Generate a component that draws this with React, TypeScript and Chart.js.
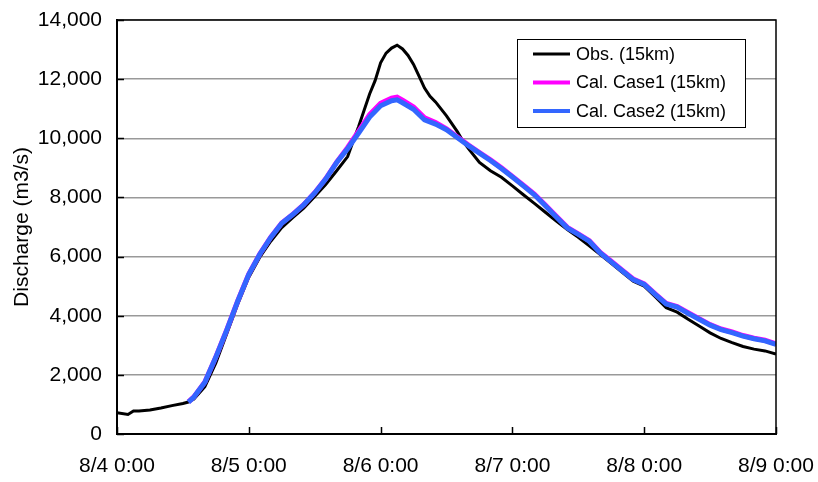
import { useEffect, useRef } from 'react';
import { Chart, registerables } from 'chart.js';

Chart.register(...registerables);

const xTickLabels = ['8/4 0:00', '8/5 0:00', '8/6 0:00', '8/7 0:00', '8/8 0:00', '8/9 0:00'];
const seriesLabels = ['Obs. (15km)', 'Cal. Case1 (15km)', 'Cal. Case2 (15km)'];

// hours since 8/4 0:00
const obsHours = [0, 2, 3, 4, 6, 8, 10, 12, 13, 14, 16, 18, 20, 22, 24, 26, 28, 30, 32, 34, 36, 38, 40, 42, 43, 44, 45, 46, 47, 48, 49, 50, 51, 52, 53, 54, 55, 56, 57, 58, 60, 62, 63, 64, 66, 68, 70, 72, 74, 76, 78, 80, 82, 84, 86, 88, 90, 92, 94, 96, 98, 100, 102, 104, 106, 108, 110, 112, 114, 116, 118, 120];
const obsValues = [720, 660, 775, 780, 810, 880, 960, 1030, 1080, 1180, 1600, 2400, 3400, 4400, 5300, 5980, 6520, 6980, 7320, 7640, 8030, 8440, 8900, 9380, 9900, 10400, 10950, 11500, 11950, 12550, 12880, 13050, 13150, 13020, 12800, 12500, 12100, 11700, 11420, 11230, 10760, 10220, 9900, 9650, 9180, 8900, 8680, 8390, 8090, 7800, 7500, 7200, 6910, 6650, 6360, 6070, 5770, 5470, 5170, 5000, 4640, 4270, 4120, 3880, 3650, 3420, 3230, 3090, 2960, 2870, 2810, 2700];

const calHours = [13, 14, 16, 18, 20, 22, 24, 26, 28, 30, 32, 34, 36, 38, 40, 42, 44, 46, 48, 50, 51, 52, 54, 56, 58, 60, 62, 64, 66, 68, 70, 72, 74, 76, 78, 80, 82, 84, 86, 88, 90, 92, 94, 96, 98, 100, 102, 104, 106, 108, 110, 112, 114, 116, 118, 120];
const case1Values = [1085, 1255, 1755, 2605, 3525, 4505, 5405, 6085, 6655, 7135, 7425, 7755, 8160, 8630, 9190, 9690, 10240, 10800, 11180, 11360, 11390, 11290, 11060, 10690, 10530, 10320, 10040, 9770, 9520, 9270, 9000, 8710, 8410, 8110, 7740, 7360, 6990, 6770, 6540, 6140, 5840, 5540, 5240, 5080, 4740, 4420, 4310, 4100, 3900, 3700, 3550, 3450, 3330, 3240, 3170, 3050];
const case2Values = [1080, 1250, 1750, 2600, 3520, 4500, 5400, 6080, 6650, 7130, 7420, 7750, 8150, 8620, 9180, 9650, 10180, 10720, 11100, 11270, 11300, 11200, 10980, 10620, 10480, 10290, 10020, 9750, 9500, 9250, 8980, 8690, 8390, 8090, 7720, 7340, 6970, 6750, 6520, 6120, 5820, 5520, 5220, 5060, 4720, 4400, 4290, 4080, 3880, 3680, 3530, 3430, 3310, 3220, 3150, 3030];

const FONT = 'Liberation Sans, Arial, sans-serif';

const toPoints = (xs: number[], ys: number[]) => xs.map((x, i) => ({ x, y: ys[i] }));

const framePlugin = {
  id: 'frameAndLegend',
  afterDraw(chart: any) {
    const { ctx, chartArea } = chart;
    const { left, top, right, bottom } = chartArea;
    const xs = chart.scales.x;
    const ys = chart.scales.y;
    ctx.save();
    ctx.strokeStyle = '#000';
    ctx.lineWidth = 1.5;
    ctx.strokeRect(left, top, right - left, bottom - top);
    // inside tick marks
    ctx.lineWidth = 1.5;
    ctx.beginPath();
    xs.ticks.forEach((t: any) => {
      const px = Math.round(xs.getPixelForValue(t.value)) + 0.5;
      ctx.moveTo(px, bottom);
      ctx.lineTo(px, bottom - 7);
    });
    ys.ticks.forEach((t: any) => {
      const py = Math.round(ys.getPixelForValue(t.value)) + 0.5;
      ctx.moveTo(left, py);
      ctx.lineTo(left + 7, py);
    });
    ctx.stroke();

    // legend box
    const lx = 517, ly = 39, lw = 228, lh = 88;
    ctx.fillStyle = '#fff';
    ctx.fillRect(lx, ly, lw, lh);
    ctx.lineWidth = 1;
    ctx.strokeStyle = '#000';
    ctx.strokeRect(lx + 0.5, ly + 0.5, lw, lh);
    ctx.font = `18px ${FONT}`;
    ctx.textBaseline = 'middle';
    ctx.textAlign = 'left';
    chart.data.datasets.forEach((ds: any, i: number) => {
      const yy = ly + 15 + i * 28.5;
      ctx.strokeStyle = ds.borderColor;
      ctx.lineWidth = i === 0 ? 3 : 4;
      ctx.beginPath();
      ctx.moveTo(lx + 16, yy);
      ctx.lineTo(lx + 53, yy);
      ctx.stroke();
      ctx.fillStyle = '#000';
      ctx.fillText(ds.label, lx + 59, yy + 1);
    });
    ctx.restore();
  },
};

export default function App() {
  const ref = useRef<HTMLCanvasElement>(null);
  useEffect(() => {
    const chart = new Chart(ref.current as HTMLCanvasElement, {
      type: 'line',
      data: {
        datasets: [
          {
            label: seriesLabels[0],
            data: toPoints(obsHours, obsValues),
            borderColor: '#000000',
            borderWidth: 3,
            pointRadius: 0,
            tension: 0,
            order: 3,
          },
          {
            label: seriesLabels[1],
            data: toPoints(calHours, case1Values),
            borderColor: '#ff00ff',
            borderWidth: 5,
            pointRadius: 0,
            tension: 0,
            order: 2,
          },
          {
            label: seriesLabels[2],
            data: toPoints(calHours, case2Values),
            borderColor: '#3366ff',
            borderWidth: 5,
            pointRadius: 0,
            tension: 0,
            order: 1,
          },
        ],
      },
      options: {
        responsive: false,
        animation: false,
        devicePixelRatio: 1,
        layout: { padding: { top: 20, right: 42, left: 0, bottom: 0 } },
        plugins: {
          legend: { display: false },
          tooltip: { enabled: false },
        },
        scales: {
          x: {
            type: 'linear',
            min: 0,
            max: 120,
            grid: { display: false, drawTicks: false },
            border: { display: true, color: '#000', width: 2 },
            ticks: {
              stepSize: 24,
              autoSkip: false,
              maxRotation: 0,
              padding: 20,
              color: '#000',
              font: { family: FONT, size: 21 },
              callback: (v: any) => xTickLabels[Math.round(Number(v) / 24)] ?? '',
            },
            afterFit: (s: any) => {
              s.height = 48;
              s.paddingLeft = 0;
              s.paddingRight = 0;
            },
          },
          y: {
            min: 0,
            max: 14000,
            grid: { color: '#999999', lineWidth: 1.5, drawTicks: false },
            border: { display: true, color: '#000', width: 2 },
            ticks: {
              stepSize: 2000,
              padding: 15,
              color: '#000',
              font: { family: FONT, size: 21 },
              callback: (v: any) => Number(v).toLocaleString('en-US'),
            },
            title: {
              display: true,
              text: 'Discharge (m3/s)',
              color: '#000',
              font: { family: FONT, size: 21 },
              padding: { top: 10, bottom: 0 },
            },
            afterFit: (s: any) => {
              s.width = 117;
              s.paddingTop = 0;
              s.paddingBottom = 0;
            },
          },
        },
      },
      plugins: [framePlugin],
    });
    return () => chart.destroy();
  }, []);
  return (
    <div style={{ position: 'fixed', left: 0, top: 0, width: 818, height: 482, background: '#fff' }}>
      <canvas ref={ref} width={818} height={482} style={{ display: 'block' }} />
    </div>
  );
}
